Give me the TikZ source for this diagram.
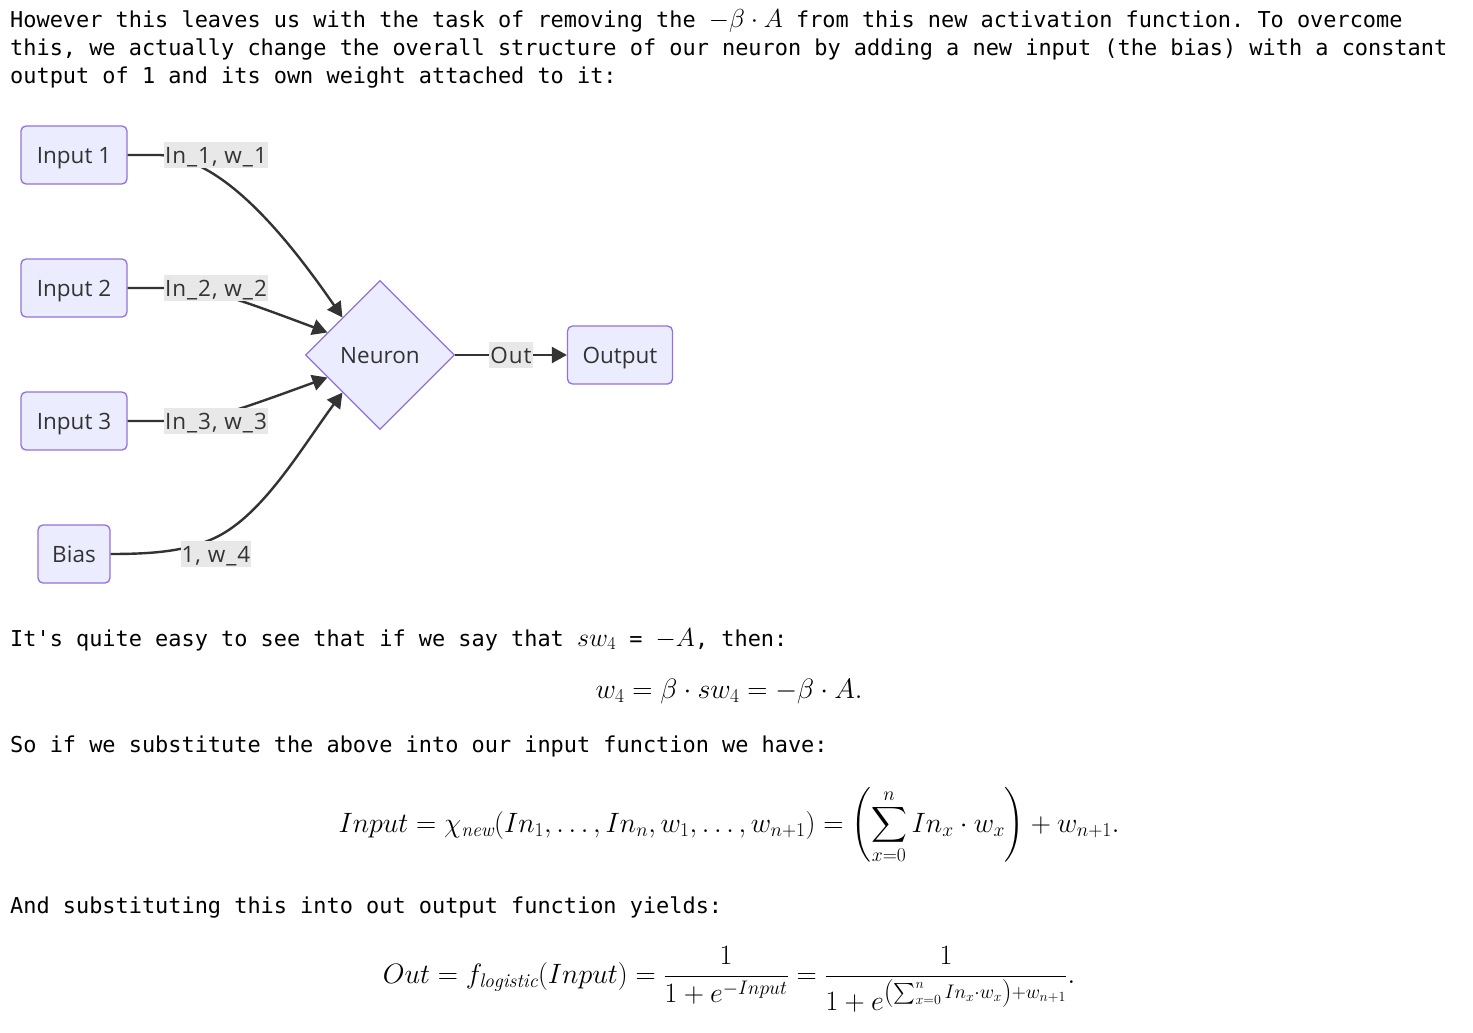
\RequirePackage{fix-cm}
\documentclass[tikz,border=0pt]{standalone}
\usepackage{amsmath}
\usepackage{exscale}
\usepackage{fontspec}
\setmonofont{DejaVu Sans Mono}
\newfontfamily\diagfont{Open Sans}
\usetikzlibrary{shapes.geometric,arrows.meta,calc}
\definecolor{nodefill}{HTML}{ECECFF}
\definecolor{nodeline}{HTML}{9370DB}
\definecolor{edgecol}{HTML}{333333}
\definecolor{lblbg}{HTML}{E8E8E8}
\newcommand\mtxt{\fontsize{21.9}{28}\ttfamily}
\newcommand\mathsz{\fontsize{26}{30}\selectfont}
\newcommand\dispsz{\fontsize{28}{32}\selectfont}
\newcommand\dgfont{\diagfont\fontsize{22.5}{26}\selectfont}
\tikzset{
  box/.style={draw=nodeline, fill=nodefill, line width=1.3pt, rounded corners=5pt,
    minimum height=58pt, inner sep=0pt, font=\dgfont, text=edgecol,
    text height=16.2pt, text depth=0pt},
  neuronbox/.style={diamond, aspect=1, draw=nodeline, fill=nodefill, line width=1.3pt,
    minimum size=149pt, inner sep=0pt, font=\dgfont, text=edgecol,
    text height=16.2pt, text depth=0pt},
  edge/.style={draw=edgecol, line width=2.4pt, -{Triangle[length=15pt,width=16pt]}},
  lbl/.style={fill=lblbg, inner xsep=1pt, inner ysep=0pt,
    font=\dgfont\addfontfeature{LetterSpace=4.5}, text=edgecol,
    text height=21pt, text depth=5pt},
  para/.style={anchor=base west, inner sep=0pt, font=\mtxt},
  disp/.style={anchor=base, inner sep=0pt, font=\dispsz},
}
\begin{document}
\begin{tikzpicture}[x=1pt,y=-1pt]
\useasboundingbox (0,0) rectangle (1473,1033);
% paragraph text
\node[para] (p1) at (10,28) {However this leaves us with the task of removing the {\mathsz$-\beta\cdot A$} from this new activation function. To overcome};
\node[para] (p2) at (10,56) {this, we actually change the overall structure of our neuron by adding a new input (the bias) with a constant};
\node[para] (p3) at (10,84) {output of 1 and its own weight attached to it:};
% diagram
\node[box, minimum width=106pt] (in1) at (74,155) {Input 1};
\node[box, minimum width=106pt] (in2) at (74,288) {Input 2};
\node[box, minimum width=106pt] (in3) at (74,421) {Input 3};
\node[box, minimum width=72pt] (bias) at (74,554) {Bias};
\node[neuronbox] (neuron) at (380,355) {Neuron};
\node[box, minimum width=105pt] (output) at (620,355) {Output};
\draw[edge] (in1.east) -- (160,155) .. controls (210,158) and (265,205) .. (neuron.north west);
\draw[edge] (in2.east) -- (175,288) .. controls (205,288) and (225,294) .. ($(neuron.west)!0.3!(neuron.north)$);
\draw[edge] (in3.east) -- (175,421) .. controls (205,421) and (225,415) .. ($(neuron.west)!0.3!(neuron.south)$);
\draw[edge] (bias.east) .. controls (160,554) and (185,550) .. (210,540) .. controls (260,520) and (300,450) .. (neuron.south west);
\draw[edge] (neuron.east) -- (output.west);
\node[lbl] (l1) at (216,155) {In\_1, w\_1};
\node[lbl] (l2) at (216,288) {In\_2, w\_2};
\node[lbl] (l3) at (216,421) {In\_3, w\_3};
\node[lbl] (l4) at (216,554) {1, w\_4};
\node[lbl] (l5) at (511,355) {Out};
% text below
\node[para] (p4) at (10,646) {It's quite easy to see that if we say that {\mathsz$sw_4$} = {\mathsz$-A$}, then:};
\node[disp] (e1) at (729,698) {$w_4 = \beta\cdot sw_4 = -\beta\cdot A.$};
\node[para] (p5) at (10,752) {So if we substitute the above into our input function we have:};
\node[disp] (e2) at (729,832) {$\displaystyle Input = \chi_{\mathit{new}}(In_1,\ldots,In_n,w_1,\ldots,w_{n+1}) = \left(\sum_{x=0}^{n} In_x\cdot w_x\right) + w_{n+1}.$};
\node[para] (p6) at (10,913) {And substituting this into out output function yields:};
\node[disp] (e3) at (729,983) {$\displaystyle Out = f_{\mathit{logistic}}(Input) = \frac{1}{1+e^{-Input}} = \frac{1}{1+e^{\left(\sum_{x=0}^{n} In_x\cdot w_x\right)+w_{n+1}}}.$};
\end{tikzpicture}
\end{document}
